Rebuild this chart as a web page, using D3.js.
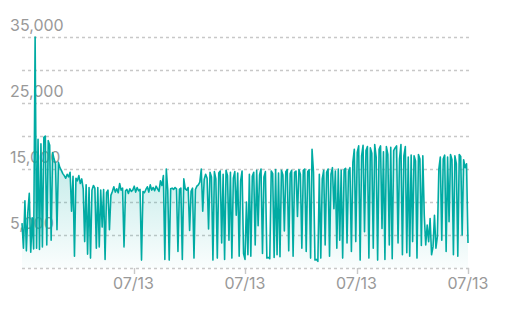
<!DOCTYPE html>
<html>
<head>
<meta charset="utf-8">
<script src="https://cdn.jsdelivr.net/npm/d3@7"></script>
<style>
  body { margin: 0; background: #fff; }
  text { font-family: Inter, "Noto Sans", sans-serif; }
</style>
</head>
<body>
<svg id="chart"></svg>
<script>
const values = [
  6800, 3000, 10200, 2600, 8400, 11300, 2400, 7600, 2900,
  35000, 3000,
  19500, 2800, 18800, 3200, 19800, 20000, 3500, 19300, 18600, 4200, 17500,
  16500, 15800, 5800, 16000, 15200, 14800,
  14300, 14000, 13600, 14200, 13800, 14500, 8600, 13900, 1800, 13600, 13200, 14000, 12800, 13500,
  12000, 4000, 12600, 2100, 12200, 1500, 11800, 12500, 12100, 3000,
  12200, 3200, 11800, 6200, 11900,
  1300, 11400, 11800, 5800, 11000, 11600,
  12300, 11500, 12000, 11400, 12800, 11800, 12100, 3200,
  11700, 11900, 11300, 12000, 11600, 11800, 12400, 11500, 12200, 11700, 11900, 1200,
  11600, 11400, 11900, 12300, 11500, 12600, 11800, 12200, 11700, 12400, 12000, 11600,
  13200, 12500, 14000, 1300, 15000, 11800, 1200, 12000, 12100, 11900, 12200,
  12000, 2500, 11900, 12100, 1300, 13500, 12000, 11800, 12200, 5700, 11600, 12100, 1500, 11900,
  12400, 12600, 13000, 15000, 8600, 13400, 14200, 13600, 5900, 14500, 13800, 1200, 14600, 13500,
  1500, 14400, 14700, 3800, 14200, 1300, 14800, 14000, 4200, 14500, 1500, 13600, 14600, 8000,
  14400, 1800, 13200, 14700, 2200, 1300, 10000, 2000,
  14200, 1800, 13900, 14500, 3500, 14800, 6400, 14100, 15000, 2200, 13800, 14600, 1500, 1600,
  1400, 14700, 14300, 1600, 14900, 2000, 14400, 1700, 14800, 14100, 5600, 14600, 14900, 2600,
  14300, 14800, 1800, 14500, 14700, 7800, 14900, 14200, 3000, 14800, 15000, 2500, 14600, 14900,
  1500, 18000, 14500, 1200, 1300, 1000, 14200, 1500, 13500,
  14800, 3500, 14500, 15000, 1800, 14200, 15200, 9000, 14700, 3000, 15000, 4200, 14800, 1500,
  14900, 15100, 3800, 14600, 15200, 2500, 16000, 18000, 4000, 17500, 18500, 1200, 17000, 18600,
  5500, 17800, 18400, 1500, 18200, 17400, 3000, 18700, 16800, 1200, 18000, 18500, 6000, 17600,
  1300, 18400, 17200, 3500, 18300, 1400, 17800, 18200,
  18500, 3800, 16500, 18700, 2000, 17000, 18400, 2300, 16800, 1800, 17100, 4000, 17000, 16200,
  1500, 17200, 16500, 3400, 17000, 8000, 3500, 6500, 4000, 7500, 2000, 3200, 8000, 3000,
  4800, 15000, 16800, 4200, 16500, 17100, 2500, 16800, 7000, 17200, 16400, 2000, 17000, 15800,
  1800, 17200, 16900, 5000, 16400, 15200, 15800, 3800
];

const gridValues = [0, 5000, 10000, 15000, 20000, 25000, 30000, 35000];
const yLabelValues = [5000, 15000, 25000, 35000];
const xTickLabels = ["07/13", "07/13", "07/13", "07/13"];

const width = 527;
const height = 313;
const plotLeft = 22;
const plotRight = 469;
const plotTop = 37;
const plotBottom = 268;

const svg = d3.select("#chart")
  .attr("width", width)
  .attr("height", height);

const x = d3.scaleLinear()
  .domain([0, values.length - 1])
  .range([plotLeft, plotRight - 1]);

const y = d3.scaleLinear()
  .domain([0, 35000])
  .range([plotBottom, plotTop]);

const defs = svg.append("defs");
const grad = defs.append("linearGradient")
  .attr("id", "fillGrad")
  .attr("gradientUnits", "userSpaceOnUse")
  .attr("x1", 0).attr("y1", y(20000)).attr("x2", 0).attr("y2", plotBottom);
grad.append("stop").attr("offset", "0%").attr("stop-color", "#00aba3").attr("stop-opacity", 0.28);
grad.append("stop").attr("offset", "100%").attr("stop-color", "#00aba3").attr("stop-opacity", 0.02);

// grid
svg.append("g")
  .selectAll("line")
  .data(gridValues)
  .join("line")
  .attr("x1", plotLeft)
  .attr("x2", plotRight)
  .attr("y1", d => Math.round(y(d)) + 0.5)
  .attr("y2", d => Math.round(y(d)) + 0.5)
  .attr("stroke", "#c8c8c8")
  .attr("stroke-width", 1.4)
  .attr("stroke-dasharray", "3,3");

// y labels, above their line
svg.append("g")
  .selectAll("text")
  .data(yLabelValues)
  .join("text")
  .attr("x", 10)
  .attr("y", d => y(d) - 6)
  .attr("fill", "#999")
  .attr("font-size", 16)
  .text(d => d3.format(",")(d));

// area + line
const area = d3.area()
  .x((d, i) => x(i))
  .y0(y(0))
  .y1(d => y(d));

const line = d3.line()
  .x((d, i) => x(i))
  .y(d => y(d));

svg.append("path")
  .datum(values)
  .attr("d", area)
  .attr("fill", "url(#fillGrad)");

svg.append("path")
  .datum(values)
  .attr("d", line)
  .attr("fill", "none")
  .attr("stroke", "#00aba3")
  .attr("stroke-width", 1.6)
  .attr("stroke-linejoin", "round");

// x axis ticks
const n = values.length - 1;
const xTicks = xTickLabels.map((label, k) => ({ label, pos: n * (k + 1) / xTickLabels.length }));

const xg = svg.append("g");
xg.selectAll("line")
  .data(xTicks)
  .join("line")
  .attr("x1", d => Math.round(x(d.pos)) + 0.5)
  .attr("x2", d => Math.round(x(d.pos)) + 0.5)
  .attr("y1", plotBottom)
  .attr("y2", plotBottom + 6)
  .attr("stroke", "#c8c8c8")
  .attr("stroke-width", 1.4);

xg.selectAll("text")
  .data(xTicks)
  .join("text")
  .attr("x", d => x(d.pos))
  .attr("y", plotBottom + 21)
  .attr("text-anchor", "middle")
  .attr("fill", "#999")
  .attr("font-size", 16)
  .text(d => d.label);
</script>
</body>
</html>
